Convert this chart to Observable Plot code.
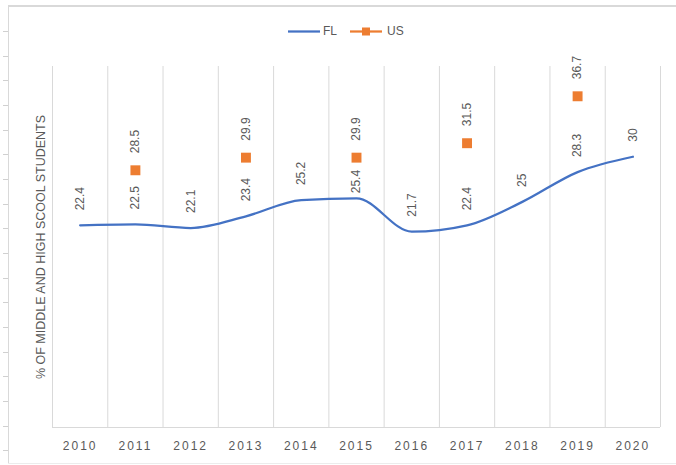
<!DOCTYPE html>
<html>
<head>
<meta charset="utf-8">
<script src="https://cdn.jsdelivr.net/npm/d3@7"></script>
<script src="https://cdn.jsdelivr.net/npm/@observablehq/plot@0.6"></script>
<style>
  body { margin: 0; background: #fff; }
  #wrap { position: relative; width: 676px; height: 465px; overflow: hidden; font-family: "Liberation Sans", Arial, sans-serif; color: #595959; }
  #chart { position: absolute; left: 0; top: 48px; }
  .deco { position: absolute; background: #d9d9d9; }
  .leg { position: absolute; font-size: 12px; line-height: 14px; top: 24px; color: #595959; }
</style>
</head>
<body>
<div id="wrap">
  <div id="chart"></div>
  <div class="deco" style="left:8px; top:5px; right:0; height:2px;"></div>
  <div class="deco" style="left:8px; top:6px; width:1px; height:457px;"></div>
  <div class="deco" style="left:8px; top:463px; right:0; height:1px; background:#ececec;"></div>
  <div style="position:absolute; left:3px; top:31px; width:5px; height:430px; background:repeating-linear-gradient(to bottom, #d0d0d0 0px, #d0d0d0 1px, transparent 1px, transparent 24.66px);"></div>
  <svg id="legendSwatches" style="position:absolute; left:0; top:0;" width="676" height="48"></svg>
  <span class="leg" id="legFL" style="left:323px;"></span>
  <span class="leg" id="legUS" style="left:387px;"></span>
</div>
<script>
// ---- data ----
const years = [2010, 2011, 2012, 2013, 2014, 2015, 2016, 2017, 2018, 2019, 2020];
const flValues = [22.4, 22.5, 22.1, 23.4, 25.2, 25.4, 21.7, 22.4, 25, 28.3, 30];
const usYears = [2011, 2013, 2015, 2017, 2019];
const usValues = [28.5, 29.9, 29.9, 31.5, 36.7];
const seriesNames = ["FL", "US"];
const yTitle = "% OF MIDDLE AND HIGH SCOOL STUDENTS";

const flColor = "#4472C4";
const usColor = "#ED7D31";
const textColor = "#595959";
const gridColor = "#d9d9d9";

const fl = years.map((year, i) => ({year, value: flValues[i]}));
const us = usYears.map((year, i) => ({year, value: usValues[i]}));
const boundaries = [...years.map(y => y - 0.5), years[years.length - 1] + 0.5];

// FL labels that would run into a US marker are placed closer to the line (as Excel does)
const usByYear = new Map(us.map(d => [d.year, d.value]));
const crowded = d => usByYear.has(d.year) && usByYear.get(d.year) - d.value < 5;

const chart = Plot.plot({
  width: 676,
  height: 417,
  marginTop: 18,
  marginBottom: 38,
  marginLeft: 52,
  marginRight: 16,
  style: {background: "transparent", fontFamily: "'Liberation Sans', Arial, sans-serif"},
  x: {domain: [years[0] - 0.5, years[years.length - 1] + 0.5], axis: null},
  y: {domain: [0, 40], axis: null},
  marks: [
    Plot.ruleX(boundaries, {stroke: gridColor, strokeWidth: 1}),
    Plot.ruleY([0], {stroke: gridColor, strokeWidth: 1}),
    Plot.axisX({ticks: years, tickFormat: d => String(d), tickSize: 0, tickPadding: 14, fill: textColor, fontSize: 12, label: null}),
    Plot.line(fl, {x: "year", y: "value", stroke: flColor, strokeWidth: 2.25, curve: "monotone-x"}),
    Plot.dot(us, {x: "year", y: "value", symbol: "square", fill: usColor, r: 5.6}),
    Plot.text(fl, {filter: d => !crowded(d), x: "year", y: "value", text: d => String(d.value), rotate: -90, textAnchor: "start", dy: -15, fill: textColor, fontSize: 12}),
    Plot.text(fl, {filter: crowded, x: "year", y: "value", text: d => String(d.value), rotate: -90, textAnchor: "start", dy: -5, fill: textColor, fontSize: 12}),
    Plot.text(us, {x: "year", y: "value", text: d => String(d.value), rotate: -90, textAnchor: "start", dy: -17, fill: textColor, fontSize: 12}),
    Plot.text([yTitle], {frameAnchor: "left", rotate: -90, textAnchor: "middle", dx: -12, fill: textColor, fontSize: 12.5})
  ]
});
chart.querySelectorAll('[aria-label="x-axis tick label"] text').forEach(t => t.setAttribute("letter-spacing", "2"));
document.getElementById("chart").appendChild(chart);

// legend
const sw = d3.select("#legendSwatches");
sw.append("line").attr("x1", 288).attr("x2", 320).attr("y1", 31.5).attr("y2", 31.5).attr("stroke", flColor).attr("stroke-width", 2.25);
sw.append("line").attr("x1", 350).attr("x2", 382).attr("y1", 31.5).attr("y2", 31.5).attr("stroke", usColor).attr("stroke-width", 2.25);
sw.append("rect").attr("x", 362).attr("y", 27.5).attr("width", 8).attr("height", 8).attr("fill", usColor);
document.getElementById("legFL").textContent = seriesNames[0];
document.getElementById("legUS").textContent = seriesNames[1];
</script>
</body>
</html>
